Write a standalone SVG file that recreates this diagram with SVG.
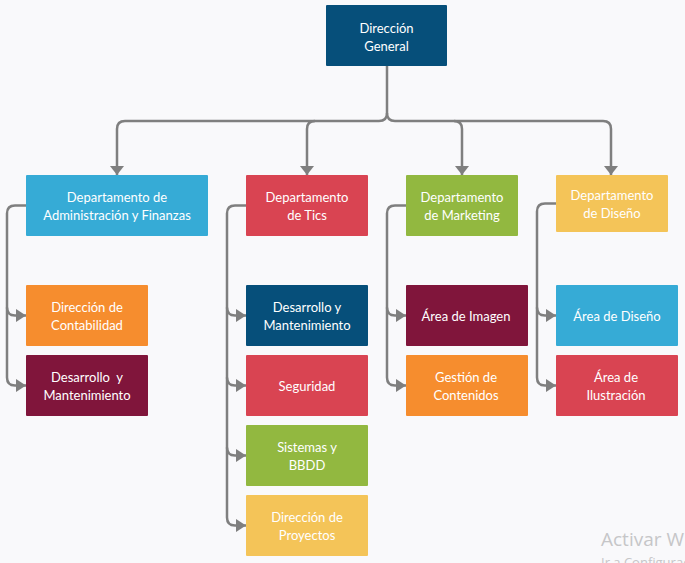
<svg xmlns="http://www.w3.org/2000/svg" width="685" height="563" viewBox="0 0 685 563">
<style>
text{font-family:Lato,"Liberation Sans",sans-serif;font-size:13px;fill:#ffffff;text-anchor:middle}
.c{fill:none;stroke:#7f7f7f;stroke-width:2.5}
.wm1{font-family:"Open Sans","Noto Sans",sans-serif;font-size:19px;fill:#c6c6c8;text-anchor:start}
.wm2{font-family:"Open Sans","Noto Sans",sans-serif;font-size:13px;fill:#c6c6c8;text-anchor:start}
</style>
<defs>
<marker id="ad" markerUnits="userSpaceOnUse" markerWidth="14" markerHeight="10" refX="7" refY="9" orient="0" viewBox="0 0 14 10">
<path d="M0,0 L14,0 L7,9 Z" fill="#7f7f7f"/>
</marker>
<marker id="ar" markerUnits="userSpaceOnUse" markerWidth="11" markerHeight="13" refX="10" refY="6.5" orient="0" viewBox="0 0 11 13">
<path d="M0,0 L10,6.5 L0,13 Z" fill="#7f7f7f"/>
</marker>
</defs>
<rect width="685" height="563" fill="#f9f9fb"/>

<g id="connectors">
<path class="c" d="M387,66 V113 Q387,121 379,121 H125 Q117,121 117,129 V175" marker-end="url(#ad)"/>
<path class="c" d="M387,113 Q387,121 395,121 H603 Q611,121 611,129 V175" marker-end="url(#ad)"/>
<path class="c" d="M315,121 Q307,121 307,129 V175" marker-end="url(#ad)"/>
<path class="c" d="M454,121 Q462,121 462,129 V175" marker-end="url(#ad)"/>

<path class="c" d="M26,205.5 H15 Q7,205.5 7,213.5 V307.5 Q7,315.5 15,315.5 H26" marker-end="url(#ar)"/>
<path class="c" d="M7,307.5 V377.5 Q7,385.5 15,385.5 H26" marker-end="url(#ar)"/>

<path class="c" d="M246,205.5 H235 Q227,205.5 227,213.5 V307.5 Q227,315.5 235,315.5 H246" marker-end="url(#ar)"/>
<path class="c" d="M227,307.5 V377.5 Q227,385.5 235,385.5 H246" marker-end="url(#ar)"/>
<path class="c" d="M227,377.5 V447.5 Q227,455.5 235,455.5 H246" marker-end="url(#ar)"/>
<path class="c" d="M227,447.5 V517.5 Q227,525.5 235,525.5 H246" marker-end="url(#ar)"/>

<path class="c" d="M406,205.5 H395 Q387,205.5 387,213.5 V307.5 Q387,315.5 395,315.5 H406" marker-end="url(#ar)"/>
<path class="c" d="M387,307.5 V377.5 Q387,385.5 395,385.5 H406" marker-end="url(#ar)"/>

<path class="c" d="M556,203.5 H545 Q537,203.5 537,211.5 V307.5 Q537,315.5 545,315.5 H556" marker-end="url(#ar)"/>
<path class="c" d="M537,307.5 V377.5 Q537,385.5 545,385.5 H556" marker-end="url(#ar)"/>
</g>

<g id="direccion-general">
<rect x="326" y="5" width="121" height="61" rx="1" fill="#064f7a"/>
<text x="386.5" y="33">Dirección</text>
<text x="386.5" y="51">General</text>
</g>

<g id="dep-admin">
<rect x="26" y="175" width="182" height="61" rx="1" fill="#36abd6"/>
<text x="117" y="202">Departamento de</text>
<text x="117" y="220">Administración y Finanzas</text>
</g>
<g id="dep-tics">
<rect x="246" y="175" width="122" height="61" rx="1" fill="#d94452"/>
<text x="307" y="202">Departamento</text>
<text x="307" y="220">de Tics</text>
</g>
<g id="dep-marketing">
<rect x="406" y="175" width="112" height="61" rx="1" fill="#92b840"/>
<text x="462" y="202">Departamento</text>
<text x="462" y="220">de Marketing</text>
</g>
<g id="dep-diseno">
<rect x="556" y="175" width="112" height="57" rx="1" fill="#f4c458"/>
<text x="612" y="200">Departamento</text>
<text x="612" y="218">de Diseño</text>
</g>

<g id="dir-contabilidad">
<rect x="26" y="285" width="122" height="61" rx="1" fill="#f68d2e"/>
<text x="87" y="312">Dirección de</text>
<text x="87" y="330">Contabilidad</text>
</g>
<g id="desarrollo-admin">
<rect x="26" y="355" width="122" height="61" rx="1" fill="#80153b"/>
<text x="87" y="382" xml:space="preserve">Desarrollo  y</text>
<text x="87" y="400">Mantenimiento</text>
</g>

<g id="desarrollo-tics">
<rect x="246" y="285" width="122" height="61" rx="1" fill="#064f7a"/>
<text x="307" y="312">Desarrollo y</text>
<text x="307" y="330">Mantenimiento</text>
</g>
<g id="seguridad">
<rect x="246" y="355" width="122" height="61" rx="1" fill="#d94452"/>
<text x="307" y="391">Seguridad</text>
</g>
<g id="sistemas">
<rect x="246" y="425" width="122" height="61" rx="1" fill="#92b840"/>
<text x="307" y="452">Sistemas y</text>
<text x="307" y="470">BBDD</text>
</g>
<g id="dir-proyectos">
<rect x="246" y="495" width="122" height="61" rx="1" fill="#f4c458"/>
<text x="307" y="522">Dirección de</text>
<text x="307" y="540">Proyectos</text>
</g>

<g id="area-imagen">
<rect x="406" y="285" width="122" height="61" rx="1" fill="#80153b"/>
<text x="466" y="321">Área de Imagen</text>
</g>
<g id="gestion-contenidos">
<rect x="406" y="355" width="122" height="61" rx="1" fill="#f68d2e"/>
<text x="466" y="382">Gestión de</text>
<text x="466" y="400">Contenidos</text>
</g>

<g id="area-diseno">
<rect x="556" y="285" width="122" height="61" rx="1" fill="#36abd6"/>
<text x="617" y="321">Área de Diseño</text>
</g>
<g id="area-ilustracion">
<rect x="556" y="355" width="122" height="61" rx="1" fill="#d94452"/>
<text x="616" y="382">Área de</text>
<text x="616" y="400">Ilustración</text>
</g>

<text class="wm1" x="601" y="546">Activar Windows</text>
<text class="wm2" x="601" y="567">Ir a Configuración</text>
</svg>
